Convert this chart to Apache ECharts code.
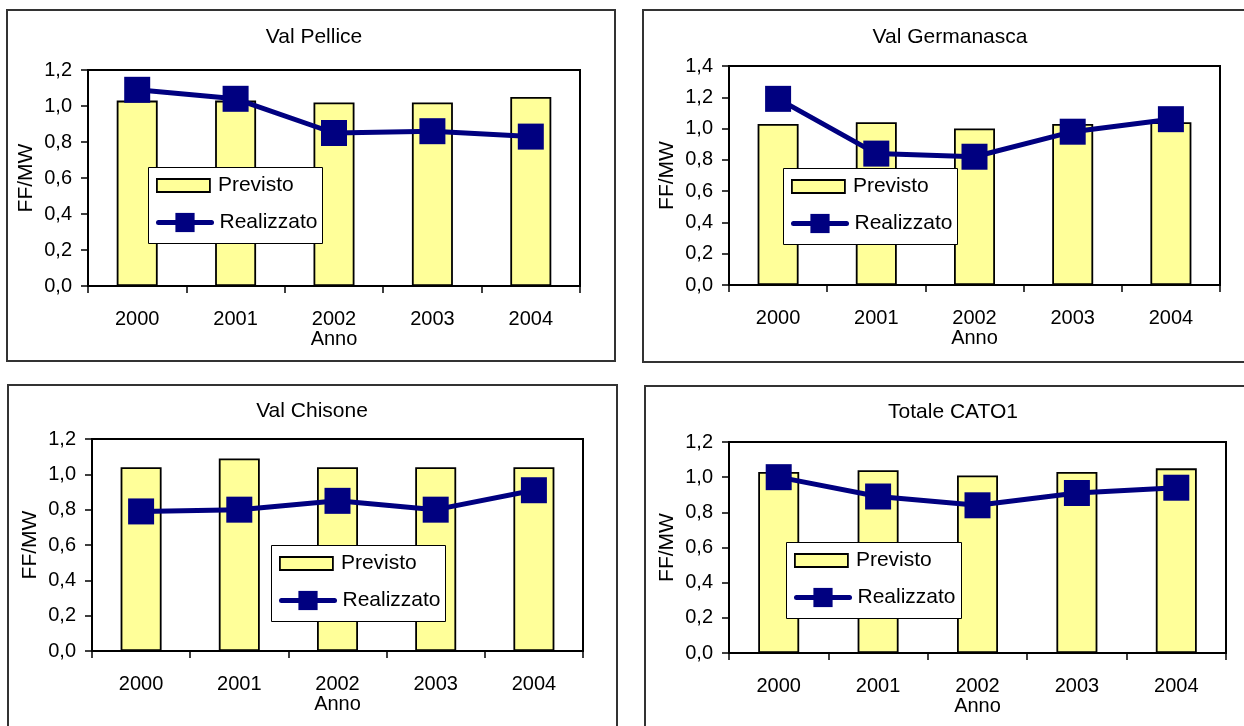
<!DOCTYPE html>
<html>
<head>
<meta charset="utf-8">
<script src="https://cdn.jsdelivr.net/npm/echarts@6/dist/echarts.min.js"></script>
<style>
html,body{margin:0;padding:0;background:#fff}
#c{width:1244px;height:726px}
</style>
</head>
<body>
<div id="c"></div>
<script>
// ---- data ----
const years = ['2000', '2001', '2002', '2003', '2004'];
const titles = ['Val Pellice', 'Val Germanasca', 'Val Chisone', 'Totale CATO1'];
const seriesNames = ['Previsto', 'Realizzato'];
const xAxisName = 'Anno';
const yAxisName = 'FF/MW';

const previstoPellice = [1.03, 1.03, 1.02, 1.02, 1.05];
const realizzatoPellice = [1.09, 1.04, 0.85, 0.86, 0.83];

const previstoGermanasca = [1.03, 1.04, 1.00, 1.03, 1.04];
const realizzatoGermanasca = [1.19, 0.84, 0.82, 0.98, 1.06];

const previstoChisone = [1.04, 1.09, 1.04, 1.04, 1.04];
const realizzatoChisone = [0.79, 0.80, 0.85, 0.80, 0.91];

const previstoTotale = [1.03, 1.04, 1.01, 1.03, 1.05];
const realizzatoTotale = [1.00, 0.89, 0.84, 0.91, 0.94];

const yMax = [1.2, 1.4, 1.2, 1.2];
const yInterval = 0.2;

// ---- layout ----
const FONT = '"Liberation Sans", Arial, sans-serif';
const panels = [
  { title: titles[0], prev: previstoPellice, real: realizzatoPellice, yMax: yMax[0],
    frame: [7, 10, 608, 351], grid: [88, 70, 492, 216], titleCx: 314, titleTop: 27, box: [148, 167, 174, 76] },
  { title: titles[1], prev: previstoGermanasca, real: realizzatoGermanasca, yMax: yMax[1],
    frame: [643, 10, 620, 352], grid: [729, 66, 491, 219], titleCx: 950, titleTop: 27, box: [783, 168, 174, 76] },
  { title: titles[2], prev: previstoChisone, real: realizzatoChisone, yMax: yMax[2],
    frame: [8, 385, 609, 400], grid: [92, 439, 491, 212], titleCx: 312, titleTop: 401, box: [271, 545, 174, 76] },
  { title: titles[3], prev: previstoTotale, real: realizzatoTotale, yMax: yMax[3],
    frame: [645, 386, 620, 400], grid: [729, 442, 497, 211], titleCx: 953, titleTop: 402, box: [786, 542, 175, 76] }
];

const TITLE_SIZE = 21;
const measure = document.createElement('canvas').getContext('2d');
measure.font = TITLE_SIZE + 'px "Liberation Sans"';

const fmt = v => v.toFixed(1).replace('.', ',');
const axisLineStyle = { color: '#000', width: 2 };
const tickStyle = { color: '#000', width: 1.5 };

const option = {
  backgroundColor: '#fff',
  animation: false,
  title: [], grid: [], xAxis: [], yAxis: [], series: [], legend: [], graphic: []
};

panels.forEach((p, i) => {
  const tw = measure.measureText(p.title).width;
  option.title.push({
    text: p.title, left: p.titleCx - tw / 2, top: p.titleTop, padding: 0,
    textStyle: { fontFamily: FONT, fontSize: TITLE_SIZE, fontWeight: 'normal', color: '#000' }
  });
  option.grid.push({
    left: p.grid[0], top: p.grid[1], width: p.grid[2], height: p.grid[3],
    show: true, borderColor: '#000', borderWidth: 2, backgroundColor: 'transparent'
  });
  option.xAxis.push({
    type: 'category', gridIndex: i, data: years, boundaryGap: true,
    name: xAxisName, nameLocation: 'middle', nameGap: 43,
    nameTextStyle: { fontFamily: FONT, fontSize: 20, color: '#000' },
    axisLine: { show: true, lineStyle: axisLineStyle },
    axisTick: { show: true, length: 7, alignWithLabel: false, interval: 0, lineStyle: tickStyle },
    axisLabel: { fontFamily: FONT, fontSize: 20, color: '#000', margin: 23, interval: 0 },
    splitLine: { show: false }
  });
  option.yAxis.push({
    type: 'value', gridIndex: i, min: 0, max: p.yMax, interval: yInterval,
    name: yAxisName, nameLocation: 'middle', nameGap: 51,
    nameTextStyle: { fontFamily: FONT, fontSize: 21, color: '#000' },
    axisLine: { show: true, lineStyle: axisLineStyle },
    axisTick: { show: true, length: 7, lineStyle: tickStyle },
    axisLabel: { fontFamily: FONT, fontSize: 20, color: '#000', margin: 16, formatter: fmt },
    splitLine: { show: false }
  });
  option.series.push({
    type: 'bar', name: seriesNames[0], xAxisIndex: i, yAxisIndex: i, data: p.prev,
    barWidth: 41, itemStyle: { color: '#FFFF99', borderColor: '#000', borderWidth: 1.8 }, z: 2
  });
  option.series.push({
    type: 'line', name: seriesNames[1], xAxisIndex: i, yAxisIndex: i, data: p.real,
    symbol: 'rect', symbolSize: 26, showAllSymbol: true,
    lineStyle: { color: '#000080', width: 5 }, itemStyle: { color: '#000080' }, z: 3
  });
  const bx = p.box[0], by = p.box[1];
  option.legend.push({
    data: [{ name: seriesNames[0], icon: 'rect' }], left: bx + 8, top: by + 8, padding: 0, orient: 'vertical',
    itemWidth: 53, itemHeight: 13, selectedMode: false, z: 20,
    itemStyle: { borderColor: '#000', borderWidth: 1.8 },
    textStyle: { fontFamily: FONT, fontSize: 21, color: '#000', padding: [0, 0, 0, 3] }
  });
  option.legend.push({
    data: [seriesNames[1]], left: bx + 8, top: by + 45, padding: 0, orient: 'vertical',
    itemWidth: 53, itemHeight: 24, selectedMode: false, z: 20,
    lineStyle: { color: '#000080', width: 5, cap: 'round' },
    textStyle: { fontFamily: FONT, fontSize: 21, color: '#000', padding: [0, 0, 0, 3] }
  });
  option.graphic.push({
    type: 'rect', silent: true, z: 0,
    shape: { x: p.frame[0], y: p.frame[1], width: p.frame[2], height: p.frame[3] },
    style: { fill: 'none', stroke: '#333', lineWidth: 2 }
  });
  option.graphic.push({
    type: 'rect', silent: true, z: 15,
    shape: { x: p.box[0] + 0.5, y: p.box[1] + 0.5, width: p.box[2], height: p.box[3] },
    style: { fill: '#fff', stroke: '#000', lineWidth: 1 }
  });
});

const chart = echarts.init(document.getElementById('c'), null, { renderer: 'canvas' });
chart.setOption(option);
</script>
</body>
</html>
